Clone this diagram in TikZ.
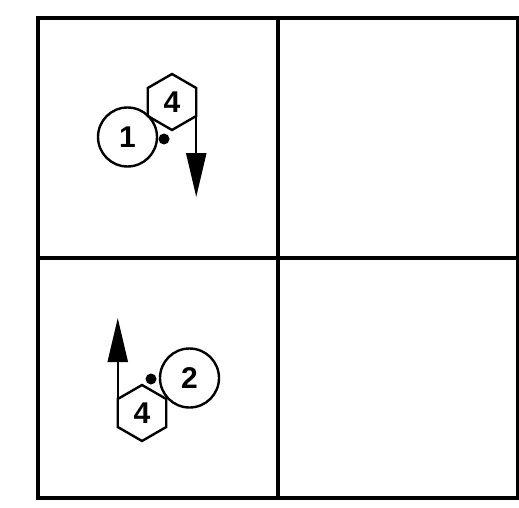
\documentclass[tikz,border=0pt]{standalone}
\usepackage{fontspec}
\setmainfont{Liberation Sans}
\usetikzlibrary{calc, arrows.meta, shapes.geometric}
\tikzset{>={Triangle[length=44pt, width=20pt]}}
\tikzset{
  wheel/.style = {draw, circle, line width=2.4pt, minimum size=59pt, inner sep=0pt, outer sep=0pt, font=\bfseries\fontsize{30}{30}\selectfont},
  hexnut/.style = {draw, regular polygon, regular polygon sides=6, shape border rotate=30, line width=2.4pt, minimum size=56pt, inner sep=0pt, outer sep=0pt, font=\bfseries\fontsize{30}{30}\selectfont},
  pin/.style = {fill, circle, minimum size=11pt, inner sep=0pt},
  panel/.style = {line width=4pt}
}

\begin{document}
\begin{tikzpicture}[x=1pt, y=-1pt]
\useasboundingbox (0,0) rectangle (519,508);
% frame of the four panels
\draw[panel] (37.5,18) rectangle (517.5,498);
\draw[panel] (277.5,18) -- (277.5,498);
\draw[panel] (37.5,258) -- (517.5,258);

% upper left panel
\node[hexnut] (hexTop) at (172,102) {4};
\node[wheel] (wheelOne) at (127.5,137) {1};
\node[pin] (pinOne) at (164,139) {};
\coordinate (tipOne) at ($(hexTop.-30)+(0,81)$);
\draw[->, line width=2.4pt] (hexTop.-30) -- (tipOne);

% lower left panel
\node[hexnut] (hexBot) at (142,413) {4};
\node[wheel] (wheelTwo) at (189.5,378) {2};
\node[pin] (pinTwo) at (151,379) {};
\coordinate (tipTwo) at ($(hexBot.150)+(0,-81)$);
\draw[->, line width=2.4pt] (hexBot.150) -- (tipTwo);
\end{tikzpicture}
\end{document}
